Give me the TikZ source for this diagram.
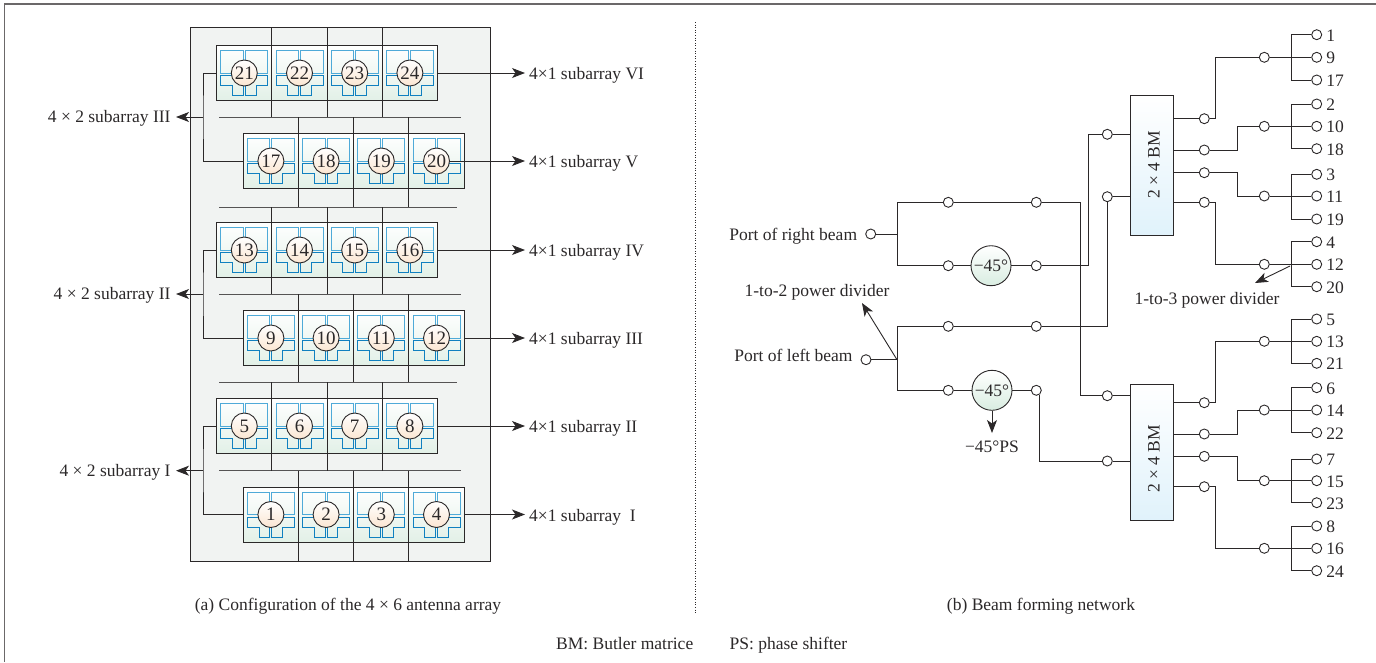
\documentclass[tikz,border=0pt]{standalone}
\usepackage{fontspec}
\setmainfont{Liberation Serif}
\usepackage{tikz}
\usetikzlibrary{calc,arrows.meta}

\definecolor{inkgrey}{HTML}{2B2829}
\definecolor{panelgrey}{HTML}{F1F3F2}
\definecolor{patchblue}{HTML}{1080C0}
\definecolor{patchlight}{HTML}{4FAAD8}
\definecolor{cellgreen}{HTML}{E2F0E7}
\definecolor{numorange}{HTML}{FBE6D2}
\definecolor{psgreen}{HTML}{D9EDE1}
\definecolor{bmblue}{HTML}{E0F2FB}

\tikzset{
  wire/.style={draw=inkgrey,line width=0.9pt},
  flow/.style={wire,-{Stealth[length=13pt,width=10pt,inset=3.5pt]}},
  port/.style={circle,draw=inkgrey,fill=white,line width=0.9pt,minimum size=10pt,inner sep=0pt},
  cellbox/.style={draw=inkgrey,line width=0.9pt,minimum width=55.2pt,minimum height=55pt,inner sep=0pt,top color=white,bottom color=cellgreen},
  numdot/.style={circle,draw=inkgrey,line width=0.9pt,minimum size=26pt,inner sep=0pt,top color=white,bottom color=numorange,text=inkgrey,font=\fontsize{19}{19}\selectfont},
  psdot/.style={circle,draw=inkgrey,line width=0.9pt,minimum size=40pt,inner sep=0pt,top color=white,bottom color=psgreen,text=inkgrey,font=\fontsize{17.5}{17.5}\selectfont},
  bmbox/.style={draw=inkgrey,line width=0.9pt,minimum width=43pt,inner sep=0pt,top color=white,bottom color=bmblue},
  lab/.style={text=inkgrey,inner sep=0pt,text height=13pt,text depth=0pt,font=\fontsize{17.5}{17.5}\selectfont},
}

\begin{document}
\begin{tikzpicture}[x=1pt,y=-1pt]
  \useasboundingbox (0,0) rectangle (1376,662);
  % page frame
  \draw[line width=1.2pt,draw=inkgrey!70] (1376,4)--(4.7,4)--(4.7,662);
  \draw[dotted,line width=0.6pt,draw=inkgrey] (695,22)--(695,613);
  % array panel
  \draw[fill=panelgrey,wire] (190,27) rectangle (490,561);
  \foreach \sy/\xa/\xb in {117/219.3/461,207/219.3/457,294/219.3/461,382/219.3/457,470.7/219.3/461}
    \draw[wire,draw=inkgrey!80] (\xa,\sy)--(\xb,\sy);
  \foreach \sx/\ya/\yb in {216.7/27/117,243.3/117/207,216.7/207/294,243.3/294/382,216.7/382/470.7,243.3/470.7/561}
    \foreach \k in {1,2,3}
      \draw[wire] ({\sx+55.2*\k},\ya)--({\sx+55.2*\k},\yb);
  % rows of cells, lowest first
  \foreach \rw/\sx/\cy in {0/243.3/514.5,1/216.7/426,2/243.3/338,3/216.7/250,4/243.3/161,5/216.7/73}
    \foreach \k in {1,2,3,4}{
      \pgfmathtruncatemacro\num{4*\rw+\k}
      \node[cellbox] (c\num) at ({\sx+55.2*(\k-0.5)},\cy) {};
      \begin{scope}[shift={(c\num.center)},line width=1pt]
        \draw[patchlight] (-23.5,0.3) rectangle (-1,-22.2);
        \draw[patchlight] (1,0.3) rectangle (23.5,-22.2);
        \draw[patchblue] (-23.5,2.8)--(-1,2.8)--(-1,22.8)--(-11.8,22.8)--(-11.8,12.8)--(-23.5,12.8)--cycle;
        \draw[patchblue] (23.5,2.8)--(1,2.8)--(1,22.8)--(11.8,22.8)--(11.8,12.8)--(23.5,12.8)--cycle;
      \end{scope}
      \node[numdot] (n\num) at (c\num.center) {\num};
    }
  % left side groups
  \foreach \up/\low/\ym/\ltxt in {21/17/117/III,13/9/294/II,5/1/470.7/I}{
    \coordinate (j\up) at (203,\ym);
    \coordinate (t\up) at (176,\ym);
    \draw[wire] (c\up.west)-|(j\up)|-(c\low.west);
    \draw[flow] (j\up)--(t\up);
    \node[lab,anchor=east] (g\up) at (170.7,\ym-1) {4 × 2 subarray \ltxt};
  }
  % right side outputs
  \coordinate (tipx) at (525,0);
  \coordinate (labx) at (529,0);
  \foreach \from/\ltxt in {c24/VI,n20/V,c16/IV,c12/III,c8/II,c4/{\ I}}{
    \coordinate (s\from) at (\from.east);
    \draw[flow] (s\from)--(s\from-|tipx);
    \node[lab,anchor=west] (a\from) at (s\from-|labx) {4×1 subarray \ltxt};
  }
  % beam ports
  \node[port] (pr) at (870.7,234) {};
  \node[port] (pl) at (866,359.7) {};
  \node[lab,anchor=east] (prl) at (857.3,234) {Port of right beam};
  \node[lab,anchor=east] (pll) at (852.7,355) {Port of left beam};
  \coordinate (dr) at (897,234);
  \coordinate (dl) at (897,359.7);
  \node[port] (r1) at (948.3,202.3) {};
  \node[port] (r2) at (1036.3,202.3) {};
  \node[port] (r3) at (948.3,265.7) {};
  \node[port] (r4) at (1036.3,265.7) {};
  \node[psdot] (ps1) at (991,265.7) {−45°};
  \node[port] (l1) at (948.3,326.3) {};
  \node[port] (l2) at (1036.3,326.3) {};
  \node[port] (l3) at (948.3,390.3) {};
  \node[port] (l4) at (1036.3,390.3) {};
  \node[psdot] (ps2) at (992,390.3) {−45°};
  \node[lab] (psl) at (992,446) {−45°PS};
  \node[lab] (d2l) at (817,290) {1-to-2 power divider};
  \node[lab] (d3l) at (1207,297.5) {1-to-3 power divider};
  % Butler matrices
  \node[bmbox,minimum height=140pt] (bm1) at (1152.2,165.7) {};
  \node[bmbox,minimum height=136pt] (bm2) at (1152.2,452) {};
  \node[lab,rotate=90] (bm1l) at (1153,165) {2 × 4 BM};
  \node[lab,rotate=90] (bm2l) at (1153,459) {2 × 4 BM};
  \node[port] (i1) at (1107.3,134.3) {};
  \node[port] (i2) at (1107.3,196.7) {};
  \node[port] (i3) at (1107.3,395.7) {};
  \node[port] (i4) at (1107.3,461) {};
  % feed wires
  \draw[wire] (pr)--(dr);
  \draw[wire] (r1)-|(dr)|-(r3);
  \draw[wire] (r1)--(r2);
  \draw[wire] (r3)--(ps1)--(r4);
  \draw[wire] (pl)--(dl);
  \draw[wire] (l1)-|(dl)|-(l3);
  \draw[wire] (l1)--(l2);
  \draw[wire] (l3)--(ps2)--(l4);
  \coordinate (b1) at (1080,202.3);
  \coordinate (b2) at (1088,265.7);
  \draw[wire] (r2)--(b1)|-(i3);
  \draw[wire] (r4)--(b2)|-(i1);
  \draw[wire] (l2)-|(i2);
  \draw[wire] (l4.-53)|-(i4);
  \draw[wire] (i1)--(bm1.west|-i1);
  \draw[wire] (i2)--(bm1.west|-i2);
  \draw[wire] (i3)--(bm2.west|-i3);
  \draw[wire] (i4)--(bm2.west|-i4);
  \coordinate (ps2t) at (992,433);
  \draw[flow] (ps2)--(ps2t);
  \coordinate (d2t) at (862,303);
  \draw[flow] (dl)--(d2t);
  % outputs of the matrices
  \foreach \i/\bm/\oy/\bx/\my/\ty/\by/\la/\lb/\lc in {
    1/bm1/118.7/1215.3/57.3/34.7/80/1/9/17,
    2/bm1/150/1237/126.3/104/148.7/2/10/18,
    3/bm1/172.7/1237/196/174.3/219/3/11/19,
    4/bm1/202.3/1215.3/264.3/241.7/286.7/4/12/20,
    5/bm2/402.7/1215.3/341.3/319/363.3/5/13/21,
    6/bm2/434/1237/410/387.7/432.7/6/14/22,
    7/bm2/456.3/1237/480.7/459/502.7/7/15/23,
    8/bm2/486.7/1215.3/548.3/526/570.7/8/16/24}{
    \node[port] (o\i) at (1204.3,\oy) {};
    \node[port] (m\i) at (1264.3,\my) {};
    \coordinate (k\i) at (\bx,\oy);
    \coordinate (v\i) at (1291.7,\my);
    \node[port] (ea\i) at (1316.7,\ty) {};
    \node[port] (eb\i) at (1316.7,\my) {};
    \node[port] (ec\i) at (1316.7,\by) {};
    \node[lab,anchor=west] (la\i) at ($(ea\i.east)+(4,0)$) {\la};
    \node[lab,anchor=west] (lb\i) at ($(eb\i.east)+(4,0)$) {\lb};
    \node[lab,anchor=west] (lc\i) at ($(ec\i.east)+(4,0)$) {\lc};
    \draw[wire] (\bm.east|-o\i)--(o\i);
    \draw[wire] (o\i)--(k\i)|-(m\i);
    \draw[wire] (m\i)--(eb\i);
    \draw[wire] (ea\i)-|(v\i)|-(ec\i);
  }
  \coordinate (d3s) at (1290,266);
  \coordinate (d3t) at (1255,283);
  \draw[flow] (d3s)--(d3t);
  % captions
  \node[lab] (capa) at (348,603.5) {(a) Configuration of the 4 × 6 antenna array};
  \node[lab] (capb) at (1041,603.5) {(b) Beam forming network};
  \node[lab,anchor=west] (capc) at (556,643) {BM: Butler matrice};
  \node[lab,anchor=east] (capd) at (847.5,643) {PS: phase shifter};
\end{tikzpicture}
\end{document}
